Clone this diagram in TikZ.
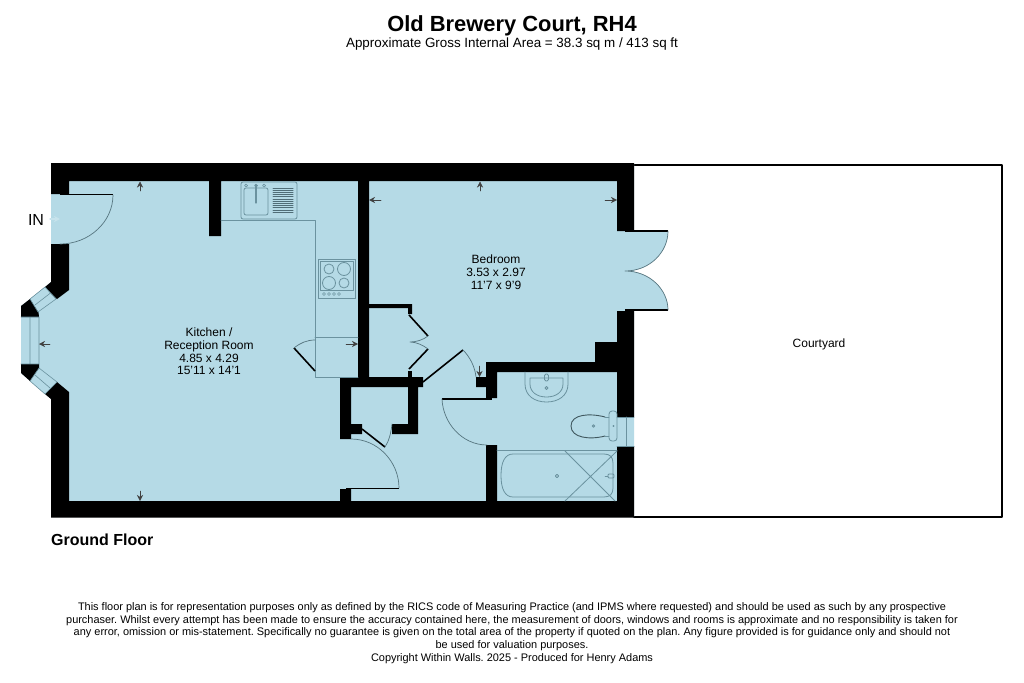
\documentclass[tikz,border=0pt]{standalone}
\usepackage{fontspec}
\usetikzlibrary{arrows.meta}
\setmainfont{Liberation Sans}
\definecolor{floorblue}{HTML}{B5DAE6}
\definecolor{fixline}{HTML}{6B929F}
\tikzset{
wallpart/.style={fill=black,draw=none},
fixture/.style={draw=fixline,line width=0.8pt},
leaf/.style={draw=black,line width=1.6pt,line cap=butt},
swing/.style={draw=fixline!80!black,line width=0.7pt},
dimarrow/.style={-{Stealth[length=6pt,width=6pt]},draw=black!75,line width=0.5pt},
roomlabel/.style={align=center,font=\fontsize{12}{12.75}\selectfont},
notelabel/.style={align=center,font=\fontsize{10.95}{12.75}\selectfont},
}
\begin{document}
\begin{tikzpicture}[line join=round, line cap=round,>=stealth,x=1pt,y=-1pt]
\useasboundingbox (0,0) rectangle (1024,682);
\draw[fill=white,line width=2pt] (634,165)--(1002,165)--(1002,516.5)--(634,516.5);
\fill[floorblue] (51,164)--(634,164)--(634,517)--(51,517)--(51,399)--(45,394)--(30,381)--(21,373)--(21,306)--(30,299)--(45,287)--(51,282)--cycle;
\fill[floorblue] (625,231)--(668,231) .. controls (668,252) and (650,271) .. (625,271) .. controls (650,271) and (668,290) .. (668,310)--(625,310)--cycle;
\fill[wallpart] (51,163)--(634,163)--(634,231)--(617,231)--(617,181)--(369,181)--(369,377)--(423,377)--(423,387)--(418,387)--(418,434)--(392,434)--(392,424)--(408,424)--(408,387)--(351,387)--(351,424)--(362,424)--(362,434)--(351,434)--(351,439)--(340,439)--(340,377)--(358,377)--(358,181)--(221,181)--(221,236)--(209,236)--(209,181)--(69,181)--(69,194)--(51,194)--cycle;
\fill[wallpart] (51,244)--(69,244)--(69,290)--(57,299)--(45,287)--(51,282)--cycle;
\fill[wallpart] (30,299)--(38.5,312.5)--(39,317)--(21,317)--(21,306)--cycle;
\fill[wallpart] (21,364)--(39,364)--(39,368)--(30,381)--(21,373)--cycle;
\fill[wallpart] (45,394)--(57,382)--(69,392)--(69,501)--(340,501)--(340,489)--(351,489)--(351,501)--(486,501)--(486,445)--(497,445)--(497,501)--(617,501)--(617,446)--(634,446)--(634,517.5)--(51,517.5)--(51,399)--cycle;
\fill[wallpart] (617,311)--(634,311)--(634,417)--(617,417)--(617,372)--(497,372)--(497,398)--(486,398)--(486,387)--(476,387)--(476,377)--(486,377)--(486,362)--(595,362)--(595,342)--(617,342)--cycle;
\fill[wallpart] (369,304)--(412,304)--(412,314)--(408,314)--(408,308)--(369,308)--cycle;
\fill[wallpart] (408,371)--(412,371)--(412,377)--(408,377)--cycle;
\draw[fixture,line width=0.6pt] (45,287)--(56,299)--(38,312)--(30,299)--cycle (57,382)--(45,394)--(30,381)--(39,368)--cycle;
\draw[fixture,line width=0.6pt] (35,305)--(50.5,293) (35,375)--(50,388) (30,317)--(30,364) (21,317)--(39,317)--(39,364)--(21,364);
\draw[fixture,line width=0.6pt] (617,417)--(634,417) (617,446)--(634,446) (626,417)--(626,446);
\draw[leaf] (60,194.5)--(113,194.5);
\draw[swing] (113,195) .. controls (113,222) and (89,244) .. (60,244);
\draw[leaf] (346,488.5)--(399,488.5);
\draw[swing] (351,439) .. controls (378,439) and (399,462) .. (399,488);
\draw[leaf] (362,429)--(385,447);
\draw[swing] (385,447) .. controls (389,441) and (391,433) .. (392,424);
\draw[leaf] (409,315)--(428,336);
\draw[leaf] (428,349)--(409,369);
\draw[swing] (428,336) .. controls (423,340) and (416,342) .. (410,342) .. controls (416,342) and (423,345) .. (428,349);
\draw[leaf] (423,382)--(463,350);
\draw[swing] (463,350) .. controls (470,357) and (475,367) .. (476,377);
\draw[leaf] (442,399)--(492,399);
\draw[swing] (442,399) .. controls (443,423) and (462,445) .. (487,445);
\draw[leaf] (625,231)--(668,231);
\draw[leaf] (625,310)--(668,310);
\draw[swing] (668,231) .. controls (668,252) and (650,271) .. (625,271) .. controls (650,271) and (668,290) .. (668,310);
\draw[fixture] (221,220)--(315,220)--(315,377)--(358,377);
\draw[fixture] (315,337)--(358,337);
\draw[leaf] (294,348)--(315,371);
\draw[swing] (294,348) .. controls (300,343) and (307,340) .. (315,340);
\draw[fixture,rounded corners=2pt] (241,182) rectangle (297,219);
\draw[fixture,rounded corners=2pt] (244,188) rectangle (268,215);
\draw[fixture,line width=1.1pt] (256,185)--(256,203);
\foreach \x in {246,256,264}{
\draw[fixture,line width=0.7pt] (\x,185.5) circle (1.5);
}
\foreach \y in {188,190.2,...,214}{
\draw[draw=fixline!75!black,line width=1pt] (273,\y)--(293,\y);
}
\draw[fixture] (318,259) rectangle (355,298);
\draw[fixture] (320,261) rectangle (353,290);
\foreach \cx/\cy/\r in {329/269/5,344/269/6.5,329/283/6.5,344/283/5}{
\draw[fixture] (\cx,\cy) circle (\r);
}
\foreach \x in {324,329,334,339}{
\draw[fixture,line width=0.5pt] (\x,294) circle (1.5);
}
\draw[fixture] (525,372)--(525,384) .. controls (525,396) and (535,402) .. (546.5,402) .. controls (558,402) and (568,396) .. (568,384)--(568,372);
\draw[fixture] (530,378)--(563,378)--(563,384) .. controls (563,392) and (556,397) .. (546.5,397) .. controls (537,397) and (530,392) .. (530,384)--cycle;
\draw[fixture,rounded corners=1.5pt] (544.5,374) rectangle (548.5,381);
\draw[fixture] (546.5,388) circle (1.5);
\draw[fixture,draw=fixline!60!black,line width=0.9pt] (605,417) .. controls (590,413) and (571,414) .. (571,426) .. controls (571,438) and (590,440) .. (605,436);
\draw[fixture] (605,417)--(609,417) (605,436)--(609,436);
\draw[fixture,rounded corners=3pt] (609,411) rectangle (617,441);
\draw[fixture] (593.5,426) circle (1.3) (613.5,426) circle (0.6);
\draw[fixture] (497,450)--(617,450);
\draw[fixture] (513,454)--(604,454) .. controls (610,454) and (613,457) .. (613,463)--(613,488) .. controls (613,494) and (610,497) .. (604,497)--(513,497) .. controls (505,497) and (501,489) .. (501,475.5) .. controls (501,462) and (505,454) .. (513,454)--cycle;
\draw[fixture] (565,451)--(615,501) (565,501)--(617,451);
\draw[fixture] (557,476) circle (1.7);
\draw[fixture,rounded corners=1pt] (608,474) rectangle (614,478);
\draw[fixture,line width=0.5pt] (605,476)--(608,476);
\foreach \tailx/\taily/\tipx/\tipy in {140/191/140/181.5,140/491/140/501,50/344/39/344,346/344/358/344,480/191/480/181.5,381/200/369/200,605/200/617/200,479.5/366/479.5/377}{
\draw[dimarrow] (\tailx,\taily)--(\tipx,\tipy);
}
\draw[-{Stealth[length=6pt,width=6pt]},draw=floorblue!75!white,line width=1.2pt] (50,219)--(60,219);
\node[font=\fontsize{21.9}{24}\selectfont\bfseries] (title) at (512,26) {Old Brewery Court, RH4};
\node[font=\fontsize{13.4}{15}\selectfont] (area) at (512,44) {Approximate Gross Internal Area = 38.3 sq m / 413 sq ft};
\node[font=\fontsize{16}{18}\selectfont] (entry) at (36,219.5) {IN};
\node[roomlabel] (kitchen) at (209,351.5) {Kitchen /\\Reception Room\\4.85 x 4.29\\15'11 x 14'1};
\node[roomlabel] (bedroom) at (496,272) {Bedroom\\3.53 x 2.97\\11'7 x 9'9};
\node[roomlabel] (courtyard) at (819,344.5) {Courtyard};
\node[anchor=west,inner sep=0pt,font=\fontsize{16}{18}\selectfont\bfseries] (floorname) at (51,539.5) {Ground Floor};
\node[notelabel] (disclaimer) at (512,633) {\frenchspacing This floor plan is for representation purposes only as defined by the RICS code of Measuring Practice (and IPMS where requested) and should be used as such by any prospective\\\frenchspacing purchaser. Whilst every attempt has been made to ensure the accuracy contained here, the measurement of doors, windows and rooms is approximate and no responsibility is taken for\\\frenchspacing any error, omission or mis-statement. Specifically no guarantee is given on the total area of the property if quoted on the plan. Any figure provided is for guidance only and should not\\be used for valuation purposes.\\\frenchspacing Copyright Within Walls. 2025 - Produced for Henry Adams};
\end{tikzpicture}
\end{document}
